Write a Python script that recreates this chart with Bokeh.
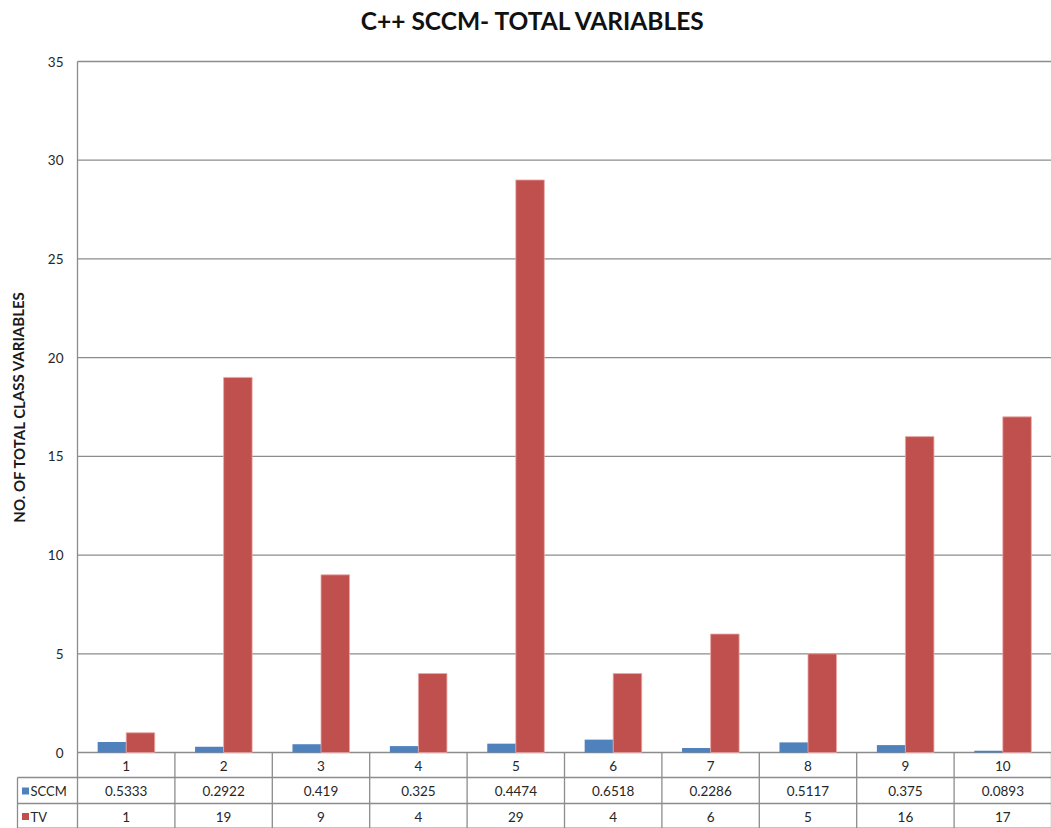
from bokeh.plotting import figure
from bokeh.models import Range1d, ColumnDataSource
from bokeh.core.properties import value
from bokeh.embed import file_html
from bokeh.resources import INLINE

# ---- data ----
categories = ["1", "2", "3", "4", "5", "6", "7", "8", "9", "10"]
sccm = [0.5333, 0.2922, 0.419, 0.325, 0.4474, 0.6518, 0.2286, 0.5117, 0.375, 0.0893]
tv = [1, 19, 9, 4, 29, 4, 6, 5, 16, 17]
sccm_labels = ["0.5333", "0.2922", "0.419", "0.325", "0.4474", "0.6518", "0.2286", "0.5117", "0.375", "0.0893"]
tv_labels = [str(v) for v in tv]
series_names = ["SCCM", "TV"]
y_ticks = [0, 5, 10, 15, 20, 25, 30, 35]
title_text = "C++ SCCM- TOTAL VARIABLES"
y_label = "NO. OF TOTAL CLASS VARIABLES"

BLUE = "#4F81BD"
RED = "#C0504D"
GRID = "#8C8C8C"
FONT = "Lato"

W, H = 1051, 828
LEFT_PX, ZERO_PX, TOP_PX = 77, 752, 61
n = len(categories)
px_x = (W - LEFT_PX) / n            # px per x unit
px_y = (ZERO_PX - TOP_PX) / 35.0    # px per y unit

def dx(px):  # canvas px -> data x
    return 0.5 + (px - LEFT_PX) / px_x

def dy(py):  # canvas px (from top) -> data y
    return (ZERO_PX - py) / px_y

p = figure(width=W, height=H, x_range=Range1d(dx(0), dx(W)), y_range=Range1d(dy(H), dy(0)),
           x_axis_type=None, y_axis_type=None, output_backend="svg", toolbar_location=None,
           min_border=0)
p.outline_line_color = None
p.grid.visible = False
p.background_fill_color = "white"
p.border_fill_color = "white"

xs = [i + 1 for i in range(n)]
bw = 0.293
src = ColumnDataSource(dict(x=xs, sccm=sccm, tv=tv,
                            xb=[x - bw / 2 for x in xs], xr=[x + bw / 2 for x in xs],
                            cat=categories, sl=sccm_labels, tl=tv_labels))

# gridlines
p.segment(x0=[0.5] * len(y_ticks), x1=[n + 0.5] * len(y_ticks), y0=y_ticks, y1=y_ticks,
          line_color=GRID, line_width=1.3)
# axis line + table verticals
p.segment(x0=[0.5], x1=[0.5], y0=[dy(H)], y1=[35], line_color=GRID, line_width=1.3)
bounds = [i + 0.5 for i in range(1, n + 1)]
p.segment(x0=bounds, x1=bounds, y0=[0] * n, y1=[dy(H)] * n, line_color=GRID, line_width=1.3)

# table rows
row_tops = [dy(777), dy(803)]
p.segment(x0=[dx(17)] * 2, x1=[n + 0.5] * 2, y0=row_tops, y1=row_tops, line_color=GRID, line_width=1.3)
p.segment(x0=[dx(17)], x1=[dx(17)], y0=[dy(777)], y1=[dy(H)], line_color=GRID, line_width=1.3)
p.segment(x0=[dx(17)], x1=[n + 0.5], y0=[dy(H) + 0.02], y1=[dy(H) + 0.02], line_color=GRID, line_width=1.3)

# bars
p.vbar(x="xb", top="sccm", width=bw, bottom=0, source=src, fill_color=BLUE, line_color=None)
p.vbar(x="xr", top="tv", width=bw, bottom=0, source=src, fill_color=RED, line_color="#E8A9A7", line_width=0.8)

# y tick labels
p.text(x=[dx(63)] * len(y_ticks), y=y_ticks, text=[str(t) for t in y_ticks],
       text_align="right", text_baseline="middle", text_font=value(FONT),
       text_font_size=value("13.5px"), text_color="#262626")

# y axis label
p.text(x=[dx(18)], y=[dy(406)], text=[y_label], angle=1.5708,
       text_align="center", text_baseline="middle", text_font=value(FONT),
       text_font_size=value("15px"), text_font_style="bold", text_color="#1a1a1a")

# title
p.text(x=[dx(533)], y=[dy(20)], text=[title_text], text_align="center", text_baseline="middle",
       text_font=value(FONT), text_font_size=value("24.5px"), text_font_style="bold", text_color="#111111")

# table text
TS = "13.5px"
p.text(x="x", y=dy(765), text="cat", source=src, text_align="center", text_baseline="middle",
       text_font=value(FONT), text_font_size=value(TS), text_color="#262626")
p.text(x="x", y=dy(790.5), text="sl", source=src, text_align="center", text_baseline="middle",
       text_font=value(FONT), text_font_size=value(TS), text_color="#262626")
p.text(x="x", y=dy(816), text="tl", source=src, text_align="center", text_baseline="middle",
       text_font=value(FONT), text_font_size=value(TS), text_color="#262626")

# legend keys in table
p.scatter(x=[dx(25)] * 2, y=[dy(790.5), dy(816)], marker="square", size=7,
          fill_color=[BLUE, RED], line_color=None)
p.text(x=[dx(30)] * 2, y=[dy(790.5), dy(816)], text=series_names, text_align="left",
       text_baseline="middle", text_font=value(FONT), text_font_size=value("13px"), text_color="#262626")

open("out.html", "w").write(file_html(p, INLINE))
